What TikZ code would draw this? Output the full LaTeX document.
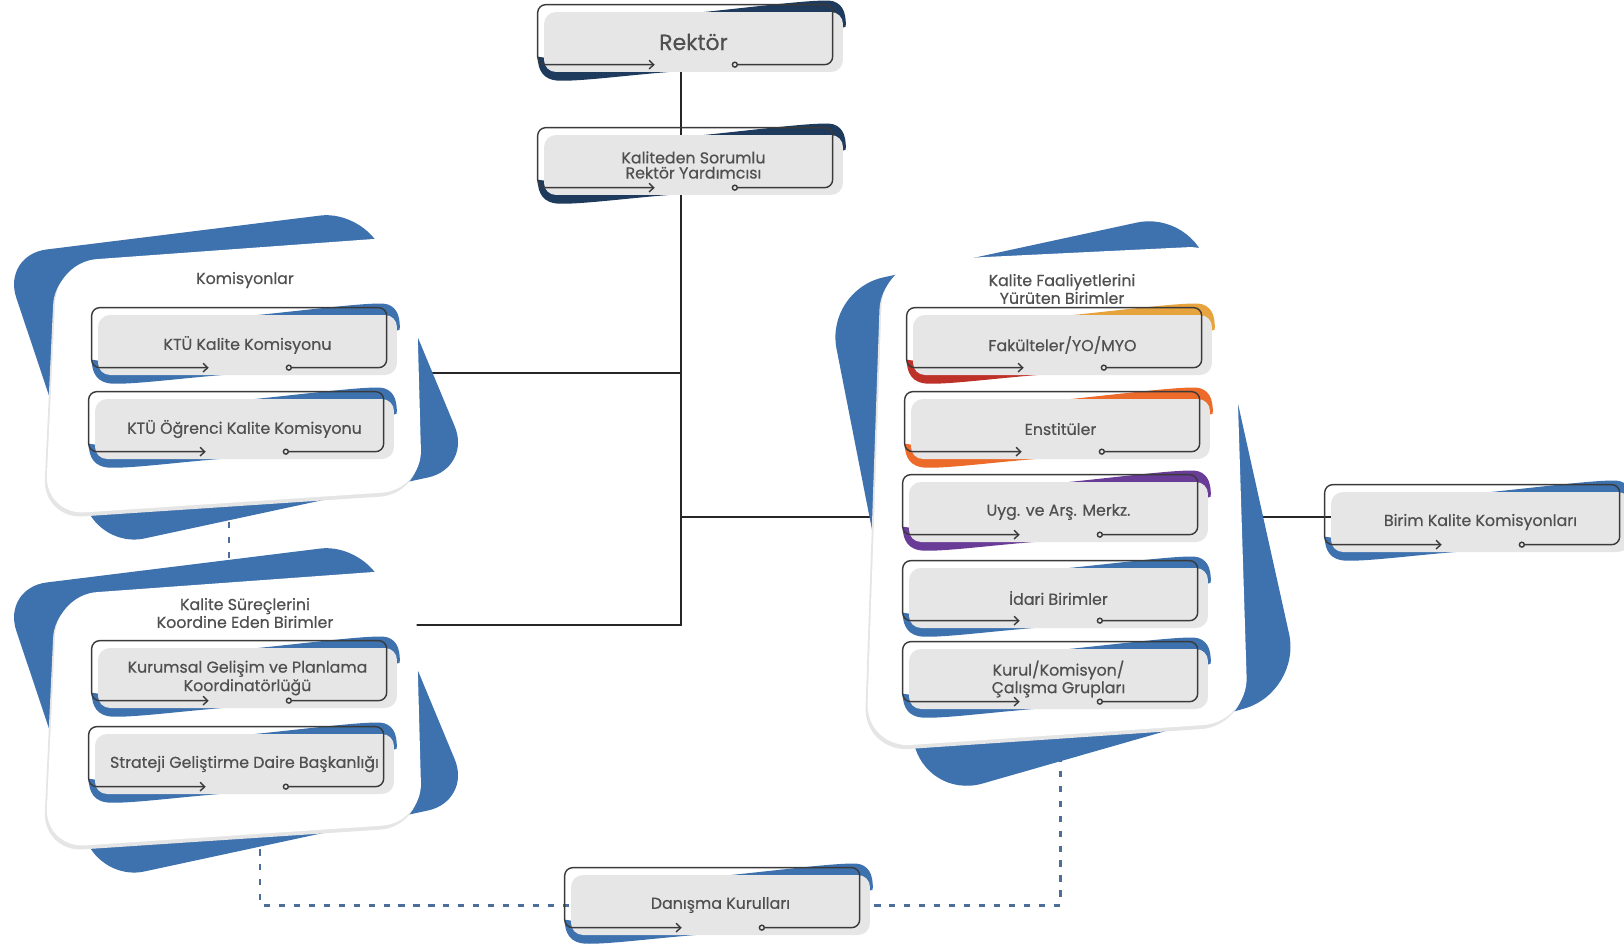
\documentclass[tikz,border=0pt]{standalone}
\usepackage{fontspec}
\setmainfont{Poppins}[UprightFeatures={FakeBold=0.5}]
\usepackage{xcolor}
\usepackage{tikz}
\usetikzlibrary{arrows.meta,calc}

\definecolor{navy}{HTML}{1E3A5C}
\definecolor{panelblue}{HTML}{3D72AF}
\definecolor{gold}{HTML}{E7A33E}
\definecolor{crimson}{HTML}{BE3129}
\definecolor{tangerine}{HTML}{EC6B2B}
\definecolor{plum}{HTML}{693C97}
\definecolor{boxgray}{HTML}{E6E6E6}
\definecolor{rimgray}{HTML}{3A3A3A}
\definecolor{txtgray}{HTML}{505050}
\definecolor{dashblue}{HTML}{4C6E99}

\pgfdeclarelayer{lines}
\pgfdeclarelayer{panels}
\pgfdeclarelayer{swoosh}
\pgfsetlayers{lines,panels,swoosh,main}

\begin{document}
\begin{tikzpicture}[
    x=0.02cm, y=-0.02cm,
    unit/.style={fill=boxgray, rounded corners=0.24cm, minimum width=5.98cm, minimum height=1.2cm,
                 inner sep=0pt, align=center, text=txtgray, font=\fontsize{9pt}{8.6pt}\selectfont},
    ttl/.style={align=center, text=txtgray, font=\fontsize{9pt}{8.4pt}\selectfont},
    rim/.style={draw=rimgray, line width=0.8pt, rounded corners=0.16cm,
                {Circle[open,length=3.6pt,width=3.6pt]}-{Straight Barb[length=2.6pt,width=5pt]}},
    link/.style={line width=1.5pt, black!85},
    dlink/.style={line width=1.7pt, dashblue, dash pattern=on 3.5pt off 5pt},
    back/.style={fill=panelblue, rounded corners=0.9cm},
    sheet/.style={fill=white, rounded corners=0.8cm}
  ]
  \useasboundingbox (0,0) rectangle (1624,947);

  % Top of the chart.
  \node[unit, font=\fontsize{12.5pt}{14pt}\selectfont] (rek) at (693.5,42) {Rektör};
  \node[unit] (kry) at (693.5,165) {Kaliteden Sorumlu\\Rektör Yardımcısı};

  % Left panels.
  \node[ttl] (komT) at (245,280) {Komisyonlar};
  \node[unit] (kom1) at (247.5,345) {KTÜ Kalite Komisyonu};
  \node[unit] (kom2) at (244.5,429) {KTÜ Öğrenci Kalite Komisyonu};
  \node[ttl] (ksbT) at (245,613) {Kalite Süreçlerini\\Koordine Eden Birimler};
  \node[unit, font=\fontsize{9pt}{10.5pt}\selectfont] (kgp) at (247.5,678) {Kurumsal Gelişim ve Planlama\\Koordinatörlüğü};
  \node[unit] (sgd) at (244.5,764) {Strateji Geliştirme Daire Başkanlığı};

  % Right panel.
  \node[ttl] (kfbT) at (1062,289) {Kalite Faaliyetlerini\\Yürüten Birimler};
  \node[unit] (fak) at (1062.5,345) {Fakülteler/YO/MYO};
  \node[unit] (ens) at (1060.5,429) {Enstitüler};
  \node[unit] (uyg) at (1058.5,512) {Uyg. ve Arş. Merkz.};
  \node[unit] (ida) at (1058.5,598) {İdari Birimler};
  \node[unit] (kur) at (1058.5,679) {Kurul/Komisyon/\\Çalışma Grupları};

  % Side and bottom boxes.
  \node[unit] (bkk) at (1480.5,522) {Birim Kalite Komisyonları};
  \node[unit] (dan) at (720.5,905) {Danışma Kurulları};

  % Outline with arrow and ring, coloured swooshes behind.
  \foreach \n/\ca/\cb in {rek/navy/navy, kry/navy/navy,
      kom1/panelblue/panelblue, kom2/panelblue/panelblue,
      kgp/panelblue/panelblue, sgd/panelblue/panelblue,
      fak/gold/crimson, ens/tangerine/tangerine, uyg/plum/plum,
      ida/panelblue/panelblue, kur/panelblue/panelblue,
      bkk/panelblue/panelblue, dan/panelblue/panelblue} {
    \begin{scope}[shift={($(\n.north west)+(-6,-7)$)}]
      \begin{pgfonlayer}{swoosh}
        \fill[\ca] (150,9) .. controls (220,2) and (272,-5) .. (292,-4)
          .. controls (303,-3) and (309,6) .. (308,22) -- (296,26) -- (285,12) -- cycle;
        \fill[\cb] (150,66) .. controls (100,69) and (45,77) .. (20,76)
          .. controls (6,75) and (0,66) .. (0,52) -- (20,55) -- cycle;
      \end{pgfonlayer}
      \draw[rim] (194,60) -- (295,60) -- (295,0) -- (0,0) -- (0,60) -- (117,60);
    \end{scope}
  }

  % Panels.
  \begin{pgfonlayer}{panels}
    \foreach \dy in {0,333} {
      \begin{scope}[yshift=-\dy*0.02cm]
        \fill[back] (2,255) -- (365,210) -- (472,468) -- (100,548) -- cycle;
        \fill[black!10, rounded corners=0.8cm] (55,265) -- (413,239) -- (420,494) -- (43,519) -- cycle;
        \fill[sheet] (57,262) -- (415,236) -- (422,490) -- (45,515) -- cycle;
      \end{scope}
    }
    \fill[back, rounded corners=1.2cm] (825,290) -- (1195,210) -- (1302,692) -- (925,800) -- cycle;
    \fill[black!10, rounded corners=0.9cm] (881,265) -- (1231,248) -- (1246,726) -- (864,752) -- cycle;
    \fill[sheet, rounded corners=0.9cm] (883,262) -- (1233,245) -- (1248,722) -- (866,748) -- cycle;
  \end{pgfonlayer}

  % Connectors.
  \coordinate (trk) at (681,625);
  \coordinate (komP) at (229,373);
  \coordinate (ksbP) at (229,625);
  \coordinate (ksbQ) at (260,700);
  \coordinate (kfbP) at (1060,517);
  \begin{pgfonlayer}{lines}
    \draw[link] (rek -| trk) -- (trk) -- (ksbP);
    \draw[link] (trk |- komP) -- (komP);
    \draw[link] (trk |- kfbP) -- (kfbP) -- (kfbP -| bkk);
    \draw[dlink] (komP) -- (ksbP);
    \draw[dlink] (ksbQ) |- (dan);
    \draw[dlink] (kfbP) |- (dan);
  \end{pgfonlayer}
\end{tikzpicture}
\end{document}
